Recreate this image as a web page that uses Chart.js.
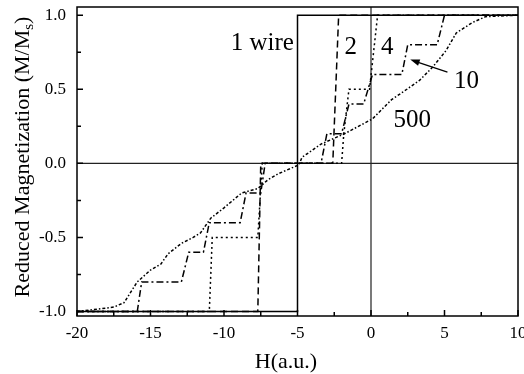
<!DOCTYPE html>
<html>
<head>
<meta charset="utf-8">
<script src="https://cdn.jsdelivr.net/npm/chart.js@4.4.1/dist/chart.umd.min.js"></script>
<style>
  html, body { margin: 0; padding: 0; background: #fff; }
  #wrap { width: 524px; height: 374px; }
</style>
</head>
<body>
<div id="wrap"><canvas id="myChart" width="524" height="374"></canvas></div>
<script>
// tick labels
const xTicks = [-20, -15, -10, -5, 0, 5, 10]
const yTicks = [-1, -0.5, 0, 0.5, 1]

// 1 wire (solid)
const h1 = [-20, -5, -5, 10]
const m1 = [-1, -1, 1, 1]

// 2 wires (dashed)
const h2 = [-20, -7.7, -7.5, -2.6, -2.2, 10]
const m2 = [-1, -1, 0, 0, 1, 1]

// 4 wires (dotted)
const h4 = [-20, -11.0, -10.8, -7.7, -7.4, -2.0, -1.85, -1.5, -0.1, 0.45, 10]
const m4 = [-1, -1, -0.5, -0.5, 0, 0, 0.2, 0.5, 0.5, 1, 1]

// 10 wires (dash-dot)
const h10 = [-20, -15.9, -15.6, -12.9, -12.4, -11.4, -11.0, -8.9, -8.5, -7.5, -7.2, -3.4, -3.0, -2.0, -1.5, -0.5, 0.1, 2.1, 2.5, 4.5, 5.0, 10]
const m10 = [-1, -1, -0.8, -0.8, -0.6, -0.6, -0.4, -0.4, -0.2, -0.2, 0, 0, 0.2, 0.2, 0.4, 0.4, 0.6, 0.6, 0.8, 0.8, 1, 1]

// 500 wires (short dash-dot)
const h500 = [-20, -19.1, -17.5, -16.8, -15.9, -15.0, -14.3, -13.8, -12.9, -12.1, -11.6, -10.9, -10.0, -8.8, -7.7, -7.0, -6.3, -4.9, -4.7, -3.4, -1.8, 0.1, 1.4, 2.3, 3.3, 4.2, 5.1, 5.8, 6.9, 7.8, 10]
const m500 = [-1, -0.99, -0.97, -0.94, -0.80, -0.72, -0.68, -0.61, -0.54, -0.5, -0.47, -0.37, -0.3, -0.2, -0.17, -0.11, -0.07, -0.01, 0.04, 0.13, 0.2, 0.3, 0.43, 0.49, 0.56, 0.65, 0.76, 0.88, 0.95, 0.99, 1]

const curveNames = ["1 wire", "2", "4", "10", "500"]

// where the curve names sit (data coords)
const labelSpots = [[-7.4, 0.81], [-1.37, 0.78], [1.1, 0.78], [6.5, 0.55], [2.8, 0.29]]
const arrowFrom = [5.2, 0.615]
const arrowTo = [2.67, 0.70]

const serif = "'Liberation Serif', 'Times New Roman', serif"

function pts(xs, ys) {
    return xs.map((v, i) => ({x: v, y: ys[i]}))
}

function line(label, xs, ys, dash) {
    return {
        label: label,
        data: pts(xs, ys),
        borderColor: "#000",
        borderWidth: 1.5,
        borderDash: dash,
        pointRadius: 0,
        fill: false,
        tension: 0
    }
}

const decor = {
    id: 'decor',
    beforeDatasetsDraw(chart) {
        const {ctx, chartArea: a, scales: {x, y}} = chart
        ctx.save()
        ctx.strokeStyle = "#222"
        ctx.lineWidth = 1.2
        const x0 = x.getPixelForValue(0)
        const y0 = y.getPixelForValue(0)
        ctx.beginPath()
        ctx.moveTo(x0, a.top); ctx.lineTo(x0, a.bottom)
        ctx.moveTo(a.left, y0); ctx.lineTo(a.right, y0)
        ctx.stroke()
        ctx.restore()
    },
    afterDatasetsDraw(chart) {
        const {ctx, chartArea: a, scales: {x, y}} = chart
        ctx.save()
        ctx.strokeStyle = "#000"
        ctx.lineWidth = 1.5
        ctx.strokeRect(a.left, a.top, a.right - a.left, a.bottom - a.top)

        // inward ticks
        ctx.beginPath()
        for (let v = -20; v <= 10; v += 2.5) {
            const px = x.getPixelForValue(v)
            const len = (v % 5 === 0) ? 6 : 4
            ctx.moveTo(px, a.bottom); ctx.lineTo(px, a.bottom - len)
        }
        for (let v = -1; v <= 1.001; v += 0.25) {
            const py = y.getPixelForValue(v)
            const major = Math.abs(v * 2 - Math.round(v * 2)) < 0.01
            ctx.moveTo(a.left, py); ctx.lineTo(a.left + (major ? 6 : 4), py)
        }
        ctx.stroke()

        // curve names
        ctx.fillStyle = "#000"
        ctx.font = "25px " + serif
        ctx.textAlign = "center"
        ctx.textBaseline = "middle"
        curveNames.forEach((n, i) => {
            ctx.fillText(n, x.getPixelForValue(labelSpots[i][0]), y.getPixelForValue(labelSpots[i][1]))
        })

        // arrow to the 10 curve
        const ax1 = x.getPixelForValue(arrowFrom[0]), ay1 = y.getPixelForValue(arrowFrom[1])
        const ax2 = x.getPixelForValue(arrowTo[0]), ay2 = y.getPixelForValue(arrowTo[1])
        const ang = Math.atan2(ay2 - ay1, ax2 - ax1)
        ctx.lineWidth = 1.3
        ctx.beginPath()
        ctx.moveTo(ax1, ay1); ctx.lineTo(ax2 - 6 * Math.cos(ang), ay2 - 6 * Math.sin(ang))
        ctx.stroke()
        ctx.beginPath()
        ctx.moveTo(ax2, ay2)
        ctx.lineTo(ax2 - 10 * Math.cos(ang - 0.35), ay2 - 10 * Math.sin(ang - 0.35))
        ctx.lineTo(ax2 - 10 * Math.cos(ang + 0.35), ay2 - 10 * Math.sin(ang + 0.35))
        ctx.closePath()
        ctx.fill()

        // axis titles
        ctx.font = "22px " + serif
        ctx.textBaseline = "alphabetic"
        ctx.fillText("H(a.u.)", 286, 368)

        ctx.translate(29, 157)
        ctx.rotate(-Math.PI / 2)
        const big = "22px " + serif, small = "15px " + serif
        const p1 = "Reduced Magnetization (M/M", p2 = "s", p3 = ")"
        ctx.font = big
        const w1 = ctx.measureText(p1).width, w3 = ctx.measureText(p3).width
        ctx.font = small
        const w2 = ctx.measureText(p2).width
        let cx = -(w1 + w2 + w3) / 2
        ctx.textAlign = "left"
        ctx.font = big
        ctx.fillText(p1, cx, 0)
        ctx.font = small
        ctx.fillText(p2, cx + w1, 4)
        ctx.font = big
        ctx.fillText(p3, cx + w1 + w2, 0)
        ctx.restore()
    }
}

new Chart("myChart", {
    type: "line",
    data: {
        datasets: [
            line("500", h500, m500, [3, 2, 1.5, 2]),
            line("10", h10, m10, [7, 3, 2, 3]),
            line("4", h4, m4, [2, 3]),
            line("2", h2, m2, [7, 4]),
            line("1 wire", h1, m1, [])
        ]
    },
    options: {
        responsive: false,
        animation: false,
        layout: { padding: { top: 7, right: 6, left: 0, bottom: 0 } },
        plugins: { legend: { display: false }, tooltip: { enabled: false } },
        scales: {
            x: {
                type: "linear",
                min: -20,
                max: 10,
                afterBuildTicks: s => { s.ticks = xTicks.map(v => ({value: v})) },
                afterFit: s => { s.height = 58; s.paddingLeft = 0; s.paddingRight = 0 },
                grid: { display: false, drawTicks: false },
                border: { display: false },
                ticks: { color: "#000", font: { family: serif, size: 17 }, padding: 7, maxRotation: 0, autoSkip: false }
            },
            y: {
                min: -1.03,
                max: 1.055,
                afterBuildTicks: s => { s.ticks = yTicks.map(v => ({value: v})) },
                afterFit: s => { s.width = 77; s.paddingTop = 0; s.paddingBottom = 0 },
                grid: { display: false, drawTicks: false },
                border: { display: false },
                ticks: { color: "#000", font: { family: serif, size: 17 }, padding: 11, callback: v => v.toFixed(1) }
            }
        }
    },
    plugins: [decor]
})
</script>
</body>
</html>
